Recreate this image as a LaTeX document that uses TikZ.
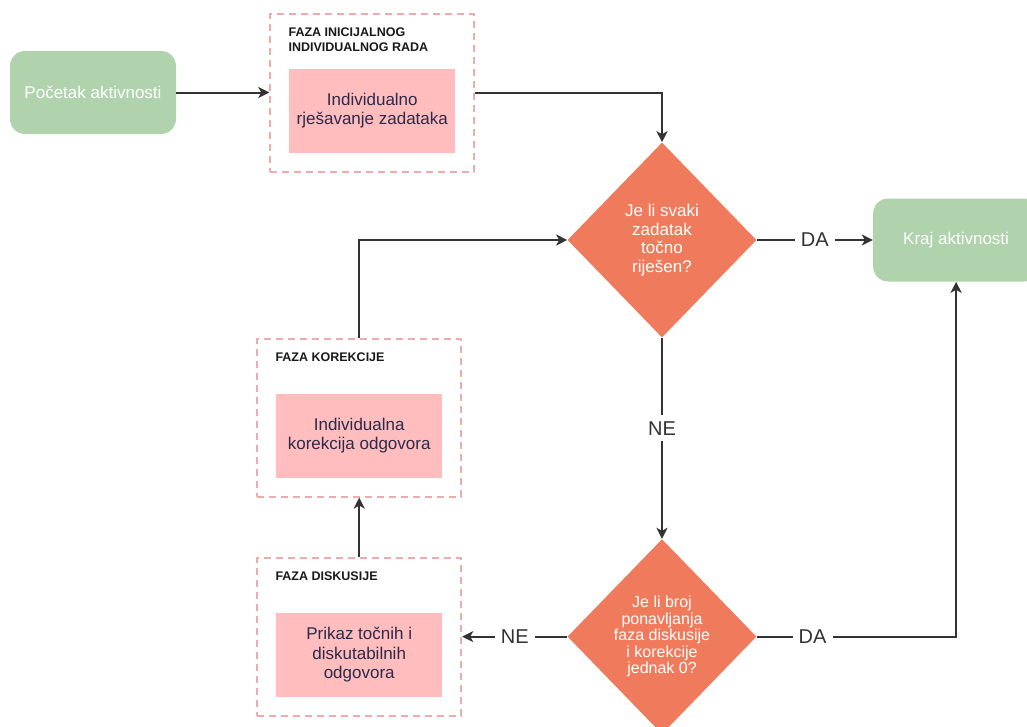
\documentclass[tikz,border=0pt]{standalone}
\usepackage{fontspec}
\setmainfont{Liberation Sans}
\usetikzlibrary{positioning,shapes.geometric,arrows.meta}

\definecolor{zelena}{HTML}{B0D3AD}
\definecolor{narancasta}{HTML}{EF7B5C}
\definecolor{roza}{HTML}{FFBDBD}
\definecolor{rub}{HTML}{EBACAC}
\definecolor{tinta}{HTML}{2B2A4C}
\definecolor{linija}{HTML}{333333}

\begin{document}
\begin{tikzpicture}[x=1pt,y=1pt,>={Stealth[length=11pt,width=11pt,inset=3pt]},semithick,align=center,
    terminal/.style={fill=zelena,rounded corners=15pt,text=white,minimum width=166pt,minimum height=83pt,font=\fontsize{17}{20}\selectfont},
    faza/.style={draw=rub,dash pattern=on 7pt off 5pt,line width=2pt,minimum width=204pt,minimum height=158pt},
    zadatak/.style={fill=roza,text=tinta,minimum width=166pt,minimum height=84pt,font=\fontsize{17}{19.5}\selectfont},
    naslov/.style={anchor=north west,align=left,inner sep=0pt,text=black!90,font=\fontsize{12.5}{15}\selectfont\bfseries},
    odluka/.style={diamond,fill=narancasta,text=white,inner sep=0pt,minimum width=189pt,minimum height=195pt,font=\fontsize{17}{18.5}\selectfont},
    veza/.style={->,draw=linija,line width=2pt},
    oznaka/.style={fill=white,text=linija,inner sep=6pt,font=\fontsize{20}{22}\selectfont}]
    \useasboundingbox (0,0) rectangle (1027,-726);

    \node[terminal] (start) at (93,-92.5) {Početak aktivnosti};
    \node[faza] (faza1) [right=93pt of start] {};
    \node[naslov] (naslov1) at ([xshift=19pt,yshift=-15pt]faza1.north west) {FAZA INICIJALNOG\\INDIVIDUALNOG RADA};
    \node[zadatak] (rad) at ([yshift=-18pt]faza1.center) {Individualno\\rješavanje zadataka};

    \node[odluka] (q1) at (662,-240) {Je li svaki\\zadatak\\točno\\riješen?};
    \node[terminal] (kraj) [right=116pt of q1] {Kraj aktivnosti};
    \node[odluka,font=\fontsize{16}{16.5}\selectfont] (q2) [below=201pt of q1] {Je li broj\\ponavljanja\\faza diskusije\\i korekcije\\jednak 0?};

    \node[faza] (faza3) [left=105pt of q2] {};
    \node[naslov] (naslov3) at ([xshift=19pt,yshift=-15pt]faza3.north west) {FAZA DISKUSIJE};
    \node[zadatak] (prikaz) at ([yshift=-18pt]faza3.center) {Prikaz točnih i\\diskutabilnih\\odgovora};

    \node[faza] (faza2) [above=59pt of faza3] {};
    \node[naslov] (naslov2) at ([xshift=19pt,yshift=-15pt]faza2.north west) {FAZA KOREKCIJE};
    \node[zadatak] (korekcija) at ([yshift=-18pt]faza2.center) {Individualna\\korekcija odgovora};

    \draw[veza] (start) -- (faza1);
    \draw[veza] (faza1) -| (q1);
    \draw[veza] (q1) -- node[oznaka] (da1) {DA} (kraj);
    \draw[veza] (q1) -- node[oznaka,pos=0.45] (ne1) {NE} (q2);
    \draw[veza] (q2) -- node[oznaka] (ne2) {NE} (faza3);
    \draw[veza] (q2) -| node[oznaka,pos=0.14] (da2) {DA} (kraj);
    \draw[veza] (faza3) -- (faza2);
    \draw[veza] (faza2) |- (q1);
\end{tikzpicture}
\end{document}
